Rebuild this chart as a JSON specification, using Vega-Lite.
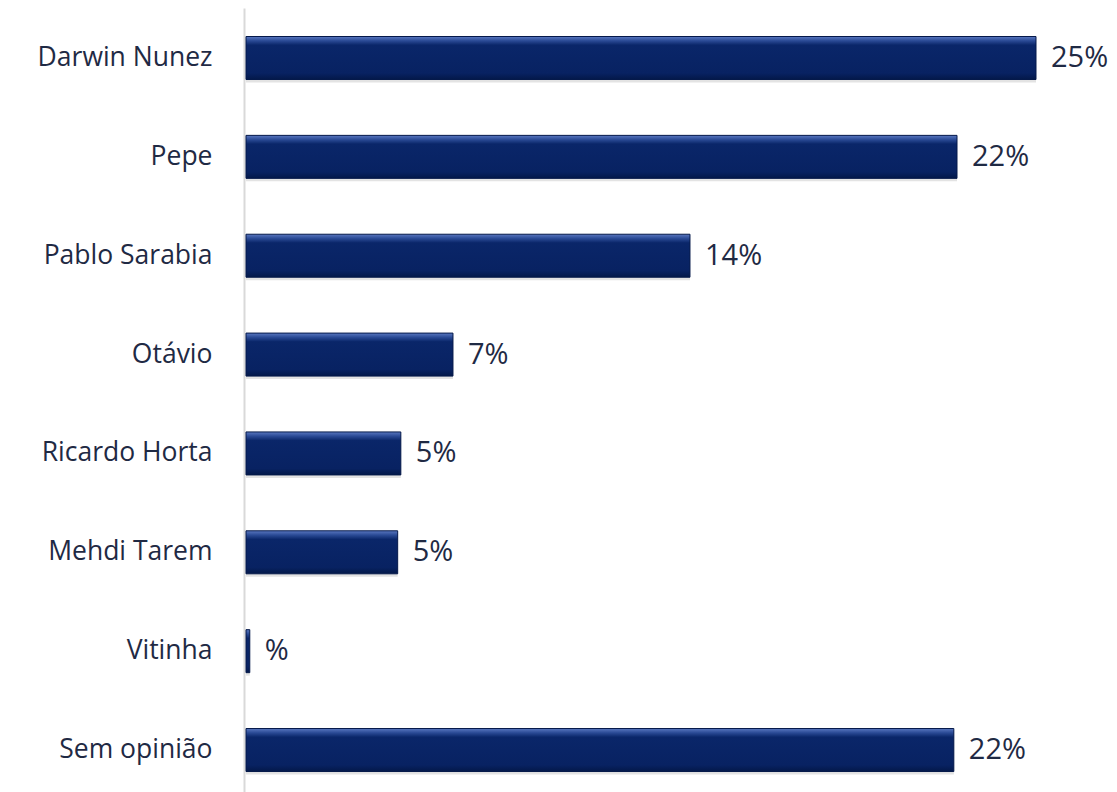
{
  "$schema": "https://vega.github.io/schema/vega-lite/v6.json",
  "width": 869,
  "height": 784,
  "autosize": "none",
  "padding": {"left": 244, "top": 8, "right": 4, "bottom": 0},
  "background": "#ffffff",
  "config": {"view": {"stroke": null}, "font": "Open Sans"},
  "data": {
    "values": [
      {"nome": "Darwin Nunez", "valor": 25.0, "rotulo": "25%"},
      {"nome": "Pepe", "valor": 22.5, "rotulo": "22%"},
      {"nome": "Pablo Sarabia", "valor": 14.05, "rotulo": "14%"},
      {"nome": "Otávio", "valor": 6.55, "rotulo": "7%"},
      {"nome": "Ricardo Horta", "valor": 4.9, "rotulo": "5%"},
      {"nome": "Mehdi Tarem", "valor": 4.8, "rotulo": "5%"},
      {"nome": "Vitinha", "valor": 0.12, "rotulo": "%"},
      {"nome": "Sem opinião", "valor": 22.4, "rotulo": "22%"}
    ]
  },
  "encoding": {
    "y": {
      "field": "nome",
      "type": "nominal",
      "sort": null,
      "scale": {"paddingInner": 0.565, "paddingOuter": 0.2477, "align": 0.582},
      "axis": {
        "title": null,
        "ticks": false,
        "labelPadding": 32,
        "labelFontSize": 26.5,
        "labelColor": "#1f2a44",
        "labelFont": "Open Sans",
        "domainColor": "#d9d9d9",
        "domainWidth": 2
      }
    },
    "x": {
      "field": "valor",
      "type": "quantitative",
      "scale": {"domain": [0, 27.5], "nice": false},
      "axis": null
    }
  },
  "layer": [
    {
      "mark": {
        "type": "bar",
        "xOffset": 2,
        "yOffset": 3,
        "color": "#c8c8c8",
        "opacity": 0.5
      }
    },
    {
      "mark": {
        "type": "bar",
        "xOffset": 2,
        "stroke": "#05194a",
        "strokeWidth": 1,
        "color": {
          "gradient": "linear",
          "x1": 0, "y1": 0, "x2": 0, "y2": 1,
          "stops": [
            {"offset": 0, "color": "#5a78c0"},
            {"offset": 0.1, "color": "#2a4a95"},
            {"offset": 0.2, "color": "#0a2669"},
            {"offset": 0.85, "color": "#082262"},
            {"offset": 1, "color": "#031849"}
          ]
        }
      }
    },
    {
      "mark": {
        "type": "text",
        "align": "left",
        "baseline": "middle",
        "dx": 17,
        "fontSize": 29,
        "font": "Open Sans",
        "color": "#1f2a44"
      },
      "encoding": {"text": {"field": "rotulo"}}
    }
  ]
}
